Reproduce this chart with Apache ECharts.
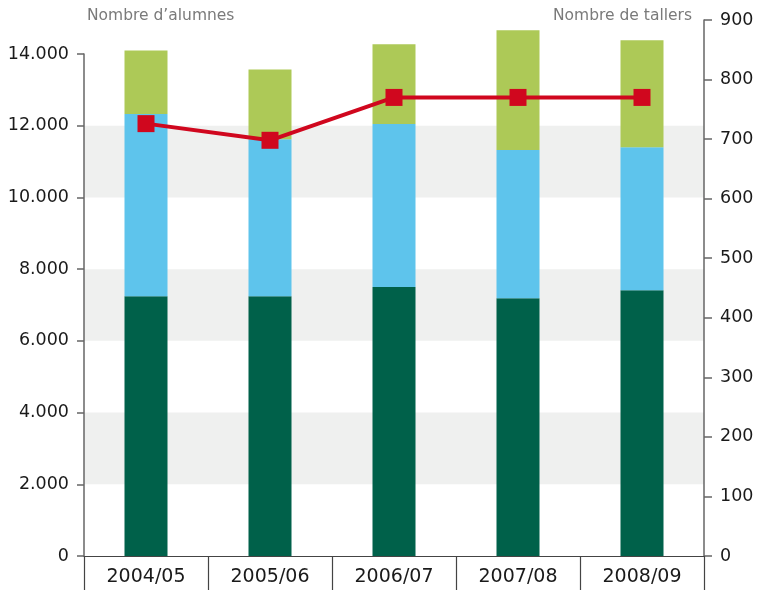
<!DOCTYPE html>
<html>
<head>
<meta charset="utf-8">
<script src="https://cdn.jsdelivr.net/npm/echarts@6/dist/echarts.min.js"></script>
<style>html,body{margin:0;padding:0;background:#fff}#c{width:766px;height:590px}</style>
</head>
<body>
<div id="c"></div>
<script>
const categories = ['2004/05', '2005/06', '2006/07', '2007/08', '2008/09'];
const alumnesDark = [7245, 7245, 7500, 7190, 7410];
const alumnesBlue = [5080, 4375, 4550, 4130, 3990];
const alumnesLight = [1775, 1950, 2220, 3340, 2980];
const tallers = [726, 698, 770, 770, 770];
const leftAxisName = 'Nombre d\u2019alumnes';
const rightAxisName = 'Nombre de tallers';

const FONT = 'DejaVu Sans';
const fmt = v => String(v).replace(/\B(?=(\d{3})+(?!\d))/g, '.');

const chart = echarts.init(document.getElementById('c'), null, {renderer: 'canvas'});
const barStyle = (color) => ({
  type: 'bar', stack: 'a', xAxisIndex: 0, yAxisIndex: 0, barWidth: 43, clip: false,
  itemStyle: {color: color}, emphasis: {disabled: true}
});
chart.setOption({
  animation: false,
  textStyle: {fontFamily: FONT},
  grid: [
    {left: 84, right: 62, top: 54, bottom: 34},
    {left: 84, right: 62, top: 20, bottom: 34}
  ],
  graphic: [
    {type: 'text', left: 87, top: 8, style: {text: leftAxisName, fontFamily: FONT, fontSize: 15.5, fill: '#7a7a7a'}},
    {type: 'text', right: 74, top: 8, style: {text: rightAxisName, fontFamily: FONT, fontSize: 15.5, fill: '#7a7a7a'}}
  ],
  xAxis: [
    {
      type: 'category', gridIndex: 0, data: categories, boundaryGap: true,
      axisLine: {show: true, lineStyle: {color: '#444', width: 1.2}},
      axisTick: {show: true, length: 36, lineStyle: {color: '#444', width: 1.2}},
      axisLabel: {show: true, color: '#1a1a1a', fontSize: 19, margin: 12, fontFamily: FONT}
    },
    {
      type: 'category', gridIndex: 1, data: categories, boundaryGap: true, show: false
    }
  ],
  yAxis: [
    {
      type: 'value', gridIndex: 0, min: 0, max: 14000, interval: 2000, position: 'left',
      axisLine: {show: true, lineStyle: {color: '#666', width: 1.5}},
      axisTick: {show: true, length: 7, lineStyle: {color: '#666', width: 1.5}},
      axisLabel: {color: '#1a1a1a', fontSize: 17.5, margin: 15, formatter: fmt, fontFamily: FONT},
      splitLine: {show: false},
      splitArea: {show: true, areaStyle: {color: ['rgba(255,255,255,0)', '#eff0ef']}}
    },
    {
      type: 'value', gridIndex: 1, min: 0, max: 900, interval: 100, position: 'right',
      axisLine: {show: true, lineStyle: {color: '#666', width: 1.5}},
      axisTick: {show: true, length: 8, lineStyle: {color: '#666', width: 1.5}},
      axisLabel: {color: '#1a1a1a', fontSize: 17.5, margin: 16, fontFamily: FONT},
      splitLine: {show: false}
    }
  ],
  series: [
    Object.assign(barStyle('#00614a'), {name: 'a', data: alumnesDark}),
    Object.assign(barStyle('#5ec4ec'), {name: 'b', data: alumnesBlue}),
    Object.assign(barStyle('#adc957'), {name: 'c', data: alumnesLight}),
    {
      type: 'line', name: 'tallers', xAxisIndex: 1, yAxisIndex: 1, data: tallers, z: 10,
      symbol: 'rect', symbolSize: 17, lineStyle: {color: '#d0071e', width: 4},
      itemStyle: {color: '#d0071e'}, emphasis: {disabled: true}
    }
  ]
});
</script>
</body>
</html>
